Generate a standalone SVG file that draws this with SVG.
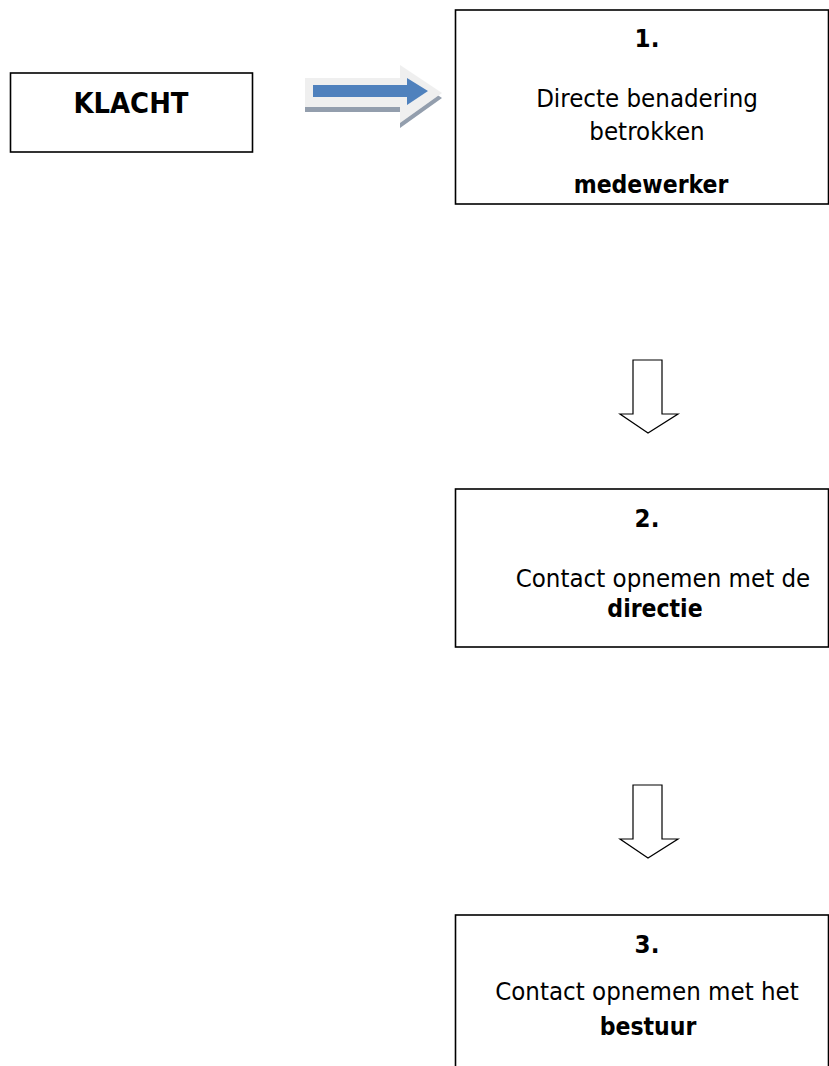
<svg xmlns="http://www.w3.org/2000/svg" width="829" height="1066" viewBox="0 0 829 1066">
<defs>
<style>
.box{fill:#fff;stroke:#000;stroke-width:1.6}
.t{font-family:"DejaVu Sans Condensed","DejaVu Sans",sans-serif;font-stretch:condensed;font-size:25.6px;fill:#000;text-anchor:middle}
.b{font-weight:bold}
.bs{font-size:24.5px}
.down{fill:#fff;stroke:#000;stroke-width:1.2;stroke-linejoin:miter}
</style>
</defs>
<rect width="829" height="1066" fill="#fff"/>
<g id="klacht">
<rect class="box" x="10.5" y="73" width="242" height="79"/>
<text class="t b" x="131" y="113" style="font-size:28.8px">KLACHT</text>
</g>
<g id="stap1">
<rect class="box" x="455.5" y="10" width="373" height="194"/>
<text class="t b" x="647" y="47">1.</text>
<text class="t" x="647" y="107">Directe benadering</text>
<text class="t" x="647" y="140">betrokken</text>
<text class="t b bs" x="651" y="193">medewerker</text>
</g>
<g id="stap2">
<rect class="box" x="455.5" y="489" width="373" height="158"/>
<text class="t b" x="647" y="527">2.</text>
<text class="t" x="663" y="587">Contact opnemen met de</text>
<text class="t b bs" x="655" y="617">directie</text>
</g>
<g id="stap3">
<rect class="box" x="455.5" y="915" width="373" height="160"/>
<text class="t b" x="647" y="953">3.</text>
<text class="t" x="647" y="1000">Contact opnemen met het</text>
<text class="t b bs" x="648" y="1035">bestuur</text>
</g>
<g id="connectors">
<g id="pijl-rechts">
<polygon points="305,83 400,83 400,70 442,98 400,128 400,112 305,112" fill="#939ead"/>
<polygon points="305,78 400,78 400,65 442,93 400,123 400,107 305,107" fill="#efefef"/>
<polygon points="313,85 407,85 407,78 428,91 407,105 407,97 313,97" fill="#4f81bd"/>
</g>
<polygon class="down" points="633,360 662,360 662,414 678,414 648,433 620,414 633,414"/>
<polygon class="down" points="633,785 662,785 662,839 678,839 648,858 620,839 633,839"/>
</g>
</svg>
